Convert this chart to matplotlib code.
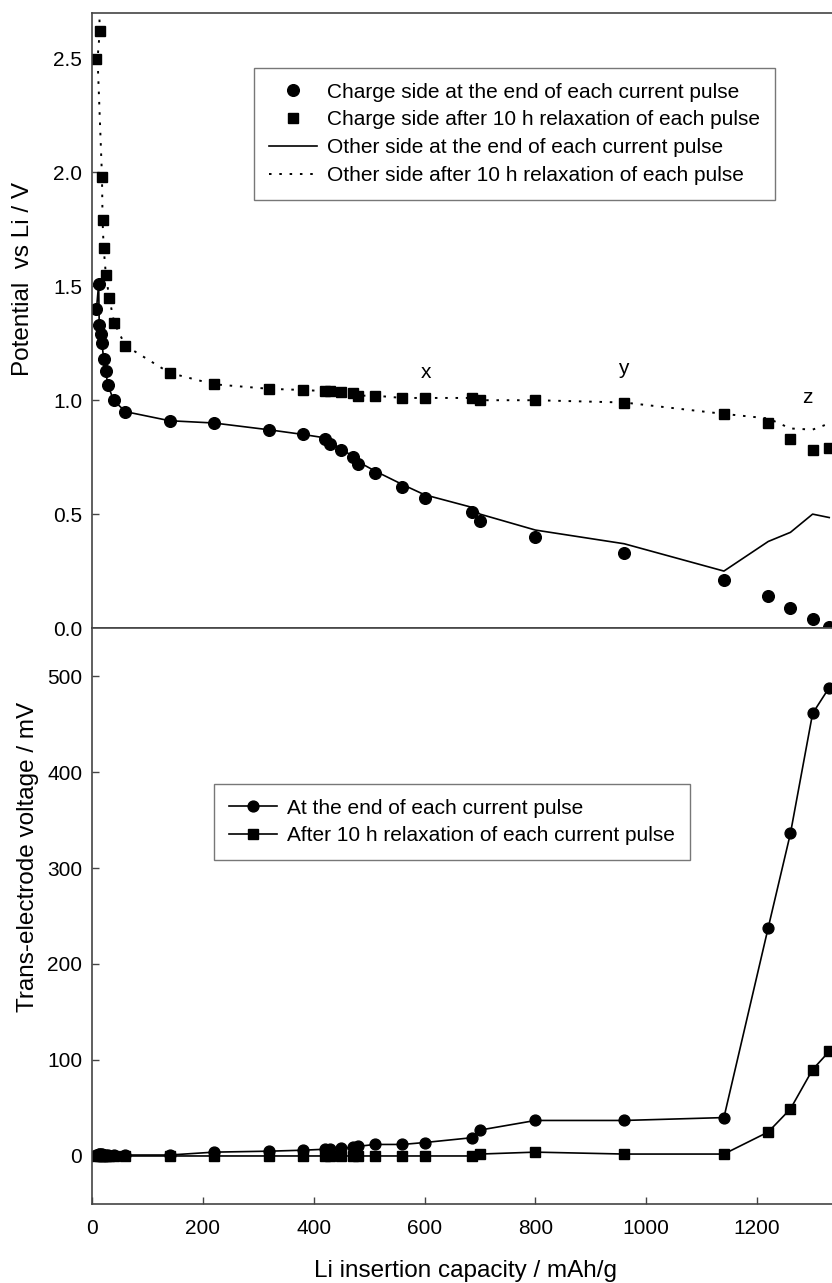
# -*- coding: utf-8 -*-
"""
Potential and trans-electrode voltage versus Li insertion capacity.
"""
import matplotlib
matplotlib.use('Agg')
import matplotlib.pyplot as plt

plt.rcParams['font.family'] = ['Liberation Sans', 'DejaVu Sans']

# capacity (mAh/g) of the points at the end of each current pulse
cap_end = [8, 12, 13, 16, 18, 21, 25, 28, 39, 60, 140, 220, 320, 380, 420,
           430, 450, 470, 480, 510, 560, 600, 685, 700, 800, 960, 1140,
           1220, 1260, 1300, 1330]
# capacity (mAh/g) of the points after 10 h relaxation
cap_rest = [8, 14, 18, 19, 21, 25, 31, 40, 60, 140, 220, 320, 380, 420,
            430, 450, 470, 480, 510, 560, 600, 685, 700, 800, 960, 1140,
            1220, 1260, 1300, 1330]

# top panel, potential vs Li (V)
charge_end = [1.40, 1.51, 1.33, 1.29, 1.25, 1.18, 1.13, 1.066, 1.00, 0.95,
              0.91, 0.90, 0.87, 0.85, 0.83, 0.81, 0.78, 0.75, 0.72, 0.68,
              0.62, 0.57, 0.51, 0.47, 0.40, 0.33, 0.21, 0.14, 0.09, 0.04,
              0.005]
charge_rest = [2.50, 2.62, 1.98, 1.79, 1.67, 1.55, 1.45, 1.34, 1.24, 1.12,
               1.07, 1.05, 1.045, 1.04, 1.04, 1.035, 1.03, 1.02, 1.02, 1.01,
               1.01, 1.01, 1.00, 1.00, 0.99, 0.94, 0.90, 0.83, 0.78, 0.79]
other_end = [1.40, 1.51, 1.33, 1.29, 1.25, 1.18, 1.13, 1.07, 1.00, 0.95,
             0.91, 0.90, 0.87, 0.85, 0.835, 0.815, 0.785, 0.755, 0.73, 0.69,
             0.63, 0.585, 0.53, 0.50, 0.43, 0.37, 0.25, 0.38, 0.42, 0.50,
             0.485]
cap_other_rest = [11, 14, 10, 18, 19, 21, 25, 31, 40, 60, 140, 220, 320,
                  380, 420, 430, 450, 470, 480, 510, 560, 600, 685, 700, 800,
                  960, 1140, 1220, 1260, 1300, 1330]
other_rest = [2.90, 2.62, 2.50, 1.98, 1.79, 1.67, 1.55, 1.45, 1.34, 1.24,
              1.12, 1.07, 1.05, 1.045, 1.04, 1.04, 1.035, 1.03, 1.02, 1.02,
              1.01, 1.01, 1.01, 1.00, 1.00, 0.99, 0.94, 0.92, 0.876, 0.871,
              0.898]

# bottom panel, trans-electrode voltage (mV)
trans_end = [1, 2, 2, 2, 2, 1, 1, 1, 1, 1, 1, 4, 5, 6, 7, 7, 8, 9, 10, 12,
             12, 14, 19, 27, 37, 37, 40, 238, 336, 461, 488]
trans_rest = [0, 0, 0, 0, 0, 0, 0, 0, 0, 0, 0, 0, 0, 0, 0, 0, 0, 0, 0, 0,
              0, 0, 2, 4, 2, 2, 25, 49, 90, 109]

point_labels = ['x', 'y', 'z']
label_cap = [602, 958, 1291]
label_pot = [1.12, 1.14, 1.01]

FS = 15
SPINE = '#444444'

fig = plt.figure(figsize=(8.32, 12.83), dpi=100)
ax1 = fig.add_axes([0.1106, 0.5105, 0.8894, 0.4794])
ax2 = fig.add_axes([0.1106, 0.0616, 0.8894, 0.4489])

# ---- top panel ----
ax1.plot(cap_end, charge_end, 'o', color='black', ms=8.4, ls='none',
         label='Charge side at the end of each current pulse')
ax1.plot(cap_rest, charge_rest, 's', color='black', ms=6.7, ls='none',
         label='Charge side after 10 h relaxation of each pulse')
ax1.plot(cap_end, other_end, '-', color='black', lw=1.2,
         label='Other side at the end of each current pulse')
ax1.plot(cap_other_rest, other_rest, color='black', lw=1.4,
         ls=(0, (1.3, 4.0)),
         label='Other side after 10 h relaxation of each pulse')
for t, xv, yv in zip(point_labels, label_cap, label_pot):
    ax1.text(xv, yv, t, fontsize=FS, ha='center', va='center')

ax1.set_xlim(0, 1335)
ax1.set_ylim(0, 2.7)
ax1.set_yticks([0.0, 0.5, 1.0, 1.5, 2.0, 2.5])
ax1.set_yticklabels(['0.0', '0.5', '1.0', '1.5', '2.0', '2.5'])
ax1.set_xticks([])
ax1.set_ylabel('Potential  vs Li / V', fontsize=17.5)
ax1.yaxis.set_label_coords(-0.079, 0.567)
leg1 = ax1.legend(loc='upper left', bbox_to_anchor=(0.219, 0.911),
                  borderaxespad=0, fontsize=FS, frameon=True, fancybox=False,
                  handlelength=2.3, handletextpad=0.5, labelspacing=0.42,
                  borderpad=0.72)
leg1.get_frame().set_edgecolor('#555555')
leg1.get_frame().set_linewidth(1.0)

# ---- bottom panel ----
ax2.plot(cap_end, trans_end, '-o', color='black', ms=7.8, lw=1.2,
         label='At the end of each current pulse')
ax2.plot(cap_rest, trans_rest, '-s', color='black', ms=6.5, lw=1.2,
         label='After 10 h relaxation of each current pulse')
ax2.set_xlim(0, 1335)
ax2.set_ylim(-50, 550)
ax2.set_yticks([0, 100, 200, 300, 400, 500])
ax2.set_xticks([0, 200, 400, 600, 800, 1000, 1200])
ax2.set_ylabel('Trans-electrode voltage / mV', fontsize=17.5)
ax2.yaxis.set_label_coords(-0.071, 0.602)
ax2.set_xlabel('Li insertion capacity / mAh/g', fontsize=17.5)
ax2.xaxis.set_label_coords(0.505, -0.097)
leg2 = ax2.legend(loc='upper left', bbox_to_anchor=(0.165, 0.73),
                  borderaxespad=0, fontsize=FS, frameon=True, fancybox=False,
                  handlelength=2.3, handletextpad=0.5, labelspacing=0.42,
                  borderpad=0.72)
leg2.get_frame().set_edgecolor('#555555')
leg2.get_frame().set_linewidth(1.0)

for ax in (ax1, ax2):
    ax.spines['right'].set_visible(False)
    for s in ('left', 'top', 'bottom'):
        ax.spines[s].set_color(SPINE)
        ax.spines[s].set_linewidth(1.2)
    ax.tick_params(direction='in', length=5, width=1, colors=SPINE,
                   labelcolor='black', labelsize=FS)
    ax.tick_params(axis='y', pad=7)
    ax.tick_params(axis='x', pad=11)

fig.savefig('out.png', dpi=100)
